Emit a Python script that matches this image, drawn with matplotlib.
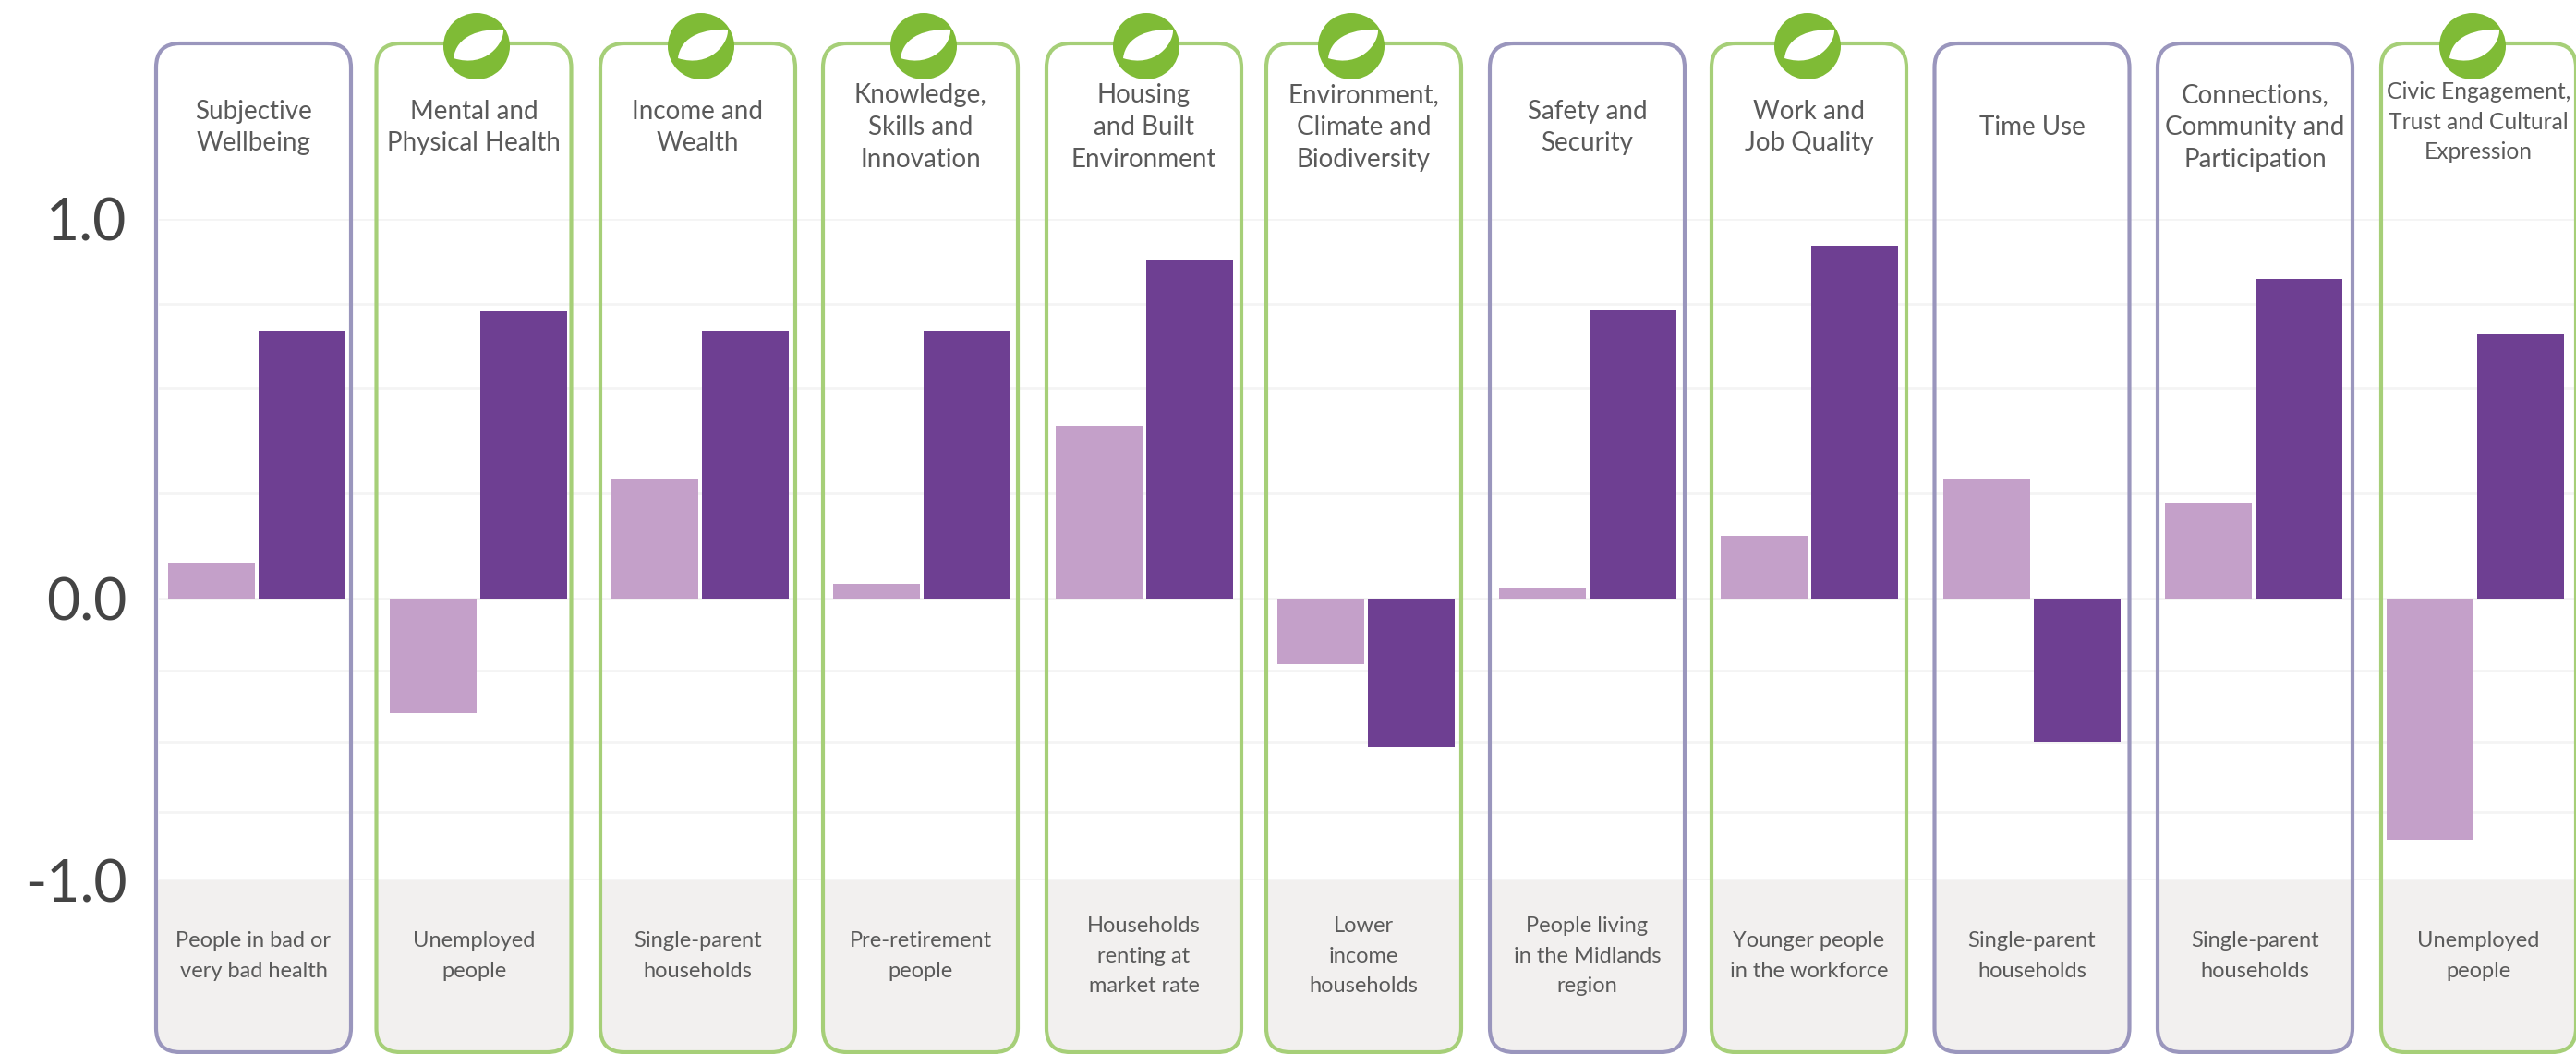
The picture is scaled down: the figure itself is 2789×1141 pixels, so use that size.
import numpy as np
import matplotlib
matplotlib.use('Agg')
import matplotlib.pyplot as plt
from matplotlib.patches import FancyBboxPatch, Circle, PathPatch, Rectangle
from matplotlib.path import Path

plt.rcParams['font.family'] = ['Lato', 'DejaVu Sans']

# chart values
titles = ['Subjective\nWellbeing', 'Mental and\nPhysical Health', 'Income and\nWealth',
          'Knowledge,\nSkills and\nInnovation', 'Housing\nand Built\nEnvironment',
          'Environment,\nClimate and\nBiodiversity', 'Safety and\nSecurity', 'Work and\nJob Quality',
          'Time Use', 'Connections,\nCommunity and\nParticipation',
          'Civic Engagement,\nTrust and Cultural\nExpression']
groups = ['People in bad or\nvery bad health', 'Unemployed\npeople', 'Single-parent\nhouseholds',
          'Pre-retirement\npeople', 'Households\nrenting at\nmarket rate', 'Lower\nincome\nhouseholds',
          'People living\nin the Midlands\nregion', 'Younger people\nin the workforce',
          'Single-parent\nhouseholds', 'Single-parent\nhouseholds', 'Unemployed\npeople']
light_vals = [0.083, -0.40, 0.284, 0.035, 0.41, -0.23, 0.024, 0.149, 0.284, 0.227, -0.85]
dark_vals = [0.67, 0.728, 0.67, 0.67, 0.88, -0.52, 0.73, 0.92, -0.50, 0.823, 0.66]
has_leaf = [False, True, True, True, True, True, False, True, False, False, True]

# the y axis of the original is not even, so use its own spacing
y_ticks = [-1, -0.75, -0.5, -0.25, 0, 0.25, 0.5, 0.75, 1]
y_labels = ['-1.0', '', '', '', '0.0', '', '', '', '1.0']
tick_rows = [953, 879, 803, 725.6, 648, 533.5, 420, 329, 236.5]

# layout in pixels
W, H = 2789, 1141
box_left = [169, 407.5, 650, 891, 1133, 1371, 1613, 1853, 2094.5, 2336, 2578]
box_width = 211
box_top, box_bottom = 47, 1139
foot_top = 953
leaf_x = [0, 516, 759, 1000, 1241, 1463, 0, 1957, 0, 0, 2677]
leaf_y = 50
first_group, group_step = 277.5, 240.25

PURPLE_LINE = '#9a96bd'
GREEN_LINE = '#a6cf78'
GREEN = '#7fbb36'
TEXT = '#5a5a5a'

fig = plt.figure(figsize=(W / 100, H / 100), dpi=100)
left_px = 172
ax = fig.add_axes([left_px / W, 1 - 953 / H, (W - left_px) / W, (953 - 236.5) / H], facecolor='none')

rows = 953 - np.array(tick_rows)
ax.set_yscale('function', functions=(lambda v: np.interp(v, y_ticks, rows),
                                     lambda p: np.interp(p, rows, y_ticks)))
ax.set_ylim(-1, 1)
ax.set_xlim((left_px - first_group) / group_step, (W - first_group) / group_step)
ax.set_yticks(y_ticks)
ax.set_yticklabels(y_labels, fontsize=45, color='#444444')
ax.set_xticks([])
ax.minorticks_off()
ax.tick_params(axis='y', length=0, pad=25)
ax.grid(axis='y', color='#f4f4f4', linewidth=2)
ax.set_axisbelow(True)
for s in ax.spines.values():
    s.set_visible(False)

x = np.arange(len(titles))
bw = 94 / group_step
off = 49 / group_step
ax.bar(x - off, light_vals, bw, color='#c4a0c9', zorder=3)
ax.bar(x + off, dark_vals, bw, color='#6e3f92', zorder=3)

# frames, footers and leaves go on a pixel layer above the chart
over = fig.add_axes([0, 0, 1, 1], facecolor='none')
over.set_xlim(0, W)
over.set_ylim(H, 0)
over.axis('off')

for i in range(len(titles)):
    l = box_left[i]
    cx = l + box_width / 2
    frame_col = GREEN_LINE if has_leaf[i] else PURPLE_LINE
    frame = FancyBboxPatch((l, box_top), box_width, box_bottom - box_top,
                           boxstyle='round,pad=0,rounding_size=26',
                           facecolor='none', edgecolor=frame_col, linewidth=3, zorder=3, clip_on=False)
    over.add_patch(frame)
    foot = Rectangle((l, foot_top), box_width, box_bottom - foot_top, facecolor='#f2f0ef', edgecolor='none', zorder=2)
    over.add_patch(foot)
    foot.set_clip_path(frame)

    # the last panel has a longer title in smaller type
    if i == 10:
        over.text(cx, 132, titles[i], ha='center', va='center', fontsize=17.7, color=TEXT, linespacing=1.52, zorder=4)
    else:
        over.text(cx, 138, titles[i], ha='center', va='center', fontsize=20, color=TEXT, linespacing=1.42, zorder=4)
    over.text(cx, 1035, groups[i], ha='center', va='center', fontsize=17, color=TEXT, linespacing=1.66, zorder=4)

    if has_leaf[i]:
        lx = leaf_x[i]
        over.add_patch(Circle((lx, leaf_y), 36, facecolor=GREEN, edgecolor='none', zorder=5))
        pts = [(-25, 13), (-22, -12), (5, -19), (29, -18), (30, -3), (10, 24), (-25, 13)]
        codes = [Path.MOVETO] + [Path.CURVE4] * 6
        leaf = Path([(lx + a, leaf_y + b) for a, b in pts], codes)
        over.add_patch(PathPatch(leaf, facecolor='white', edgecolor='none', zorder=6))

fig.savefig('out.png', dpi=100)
